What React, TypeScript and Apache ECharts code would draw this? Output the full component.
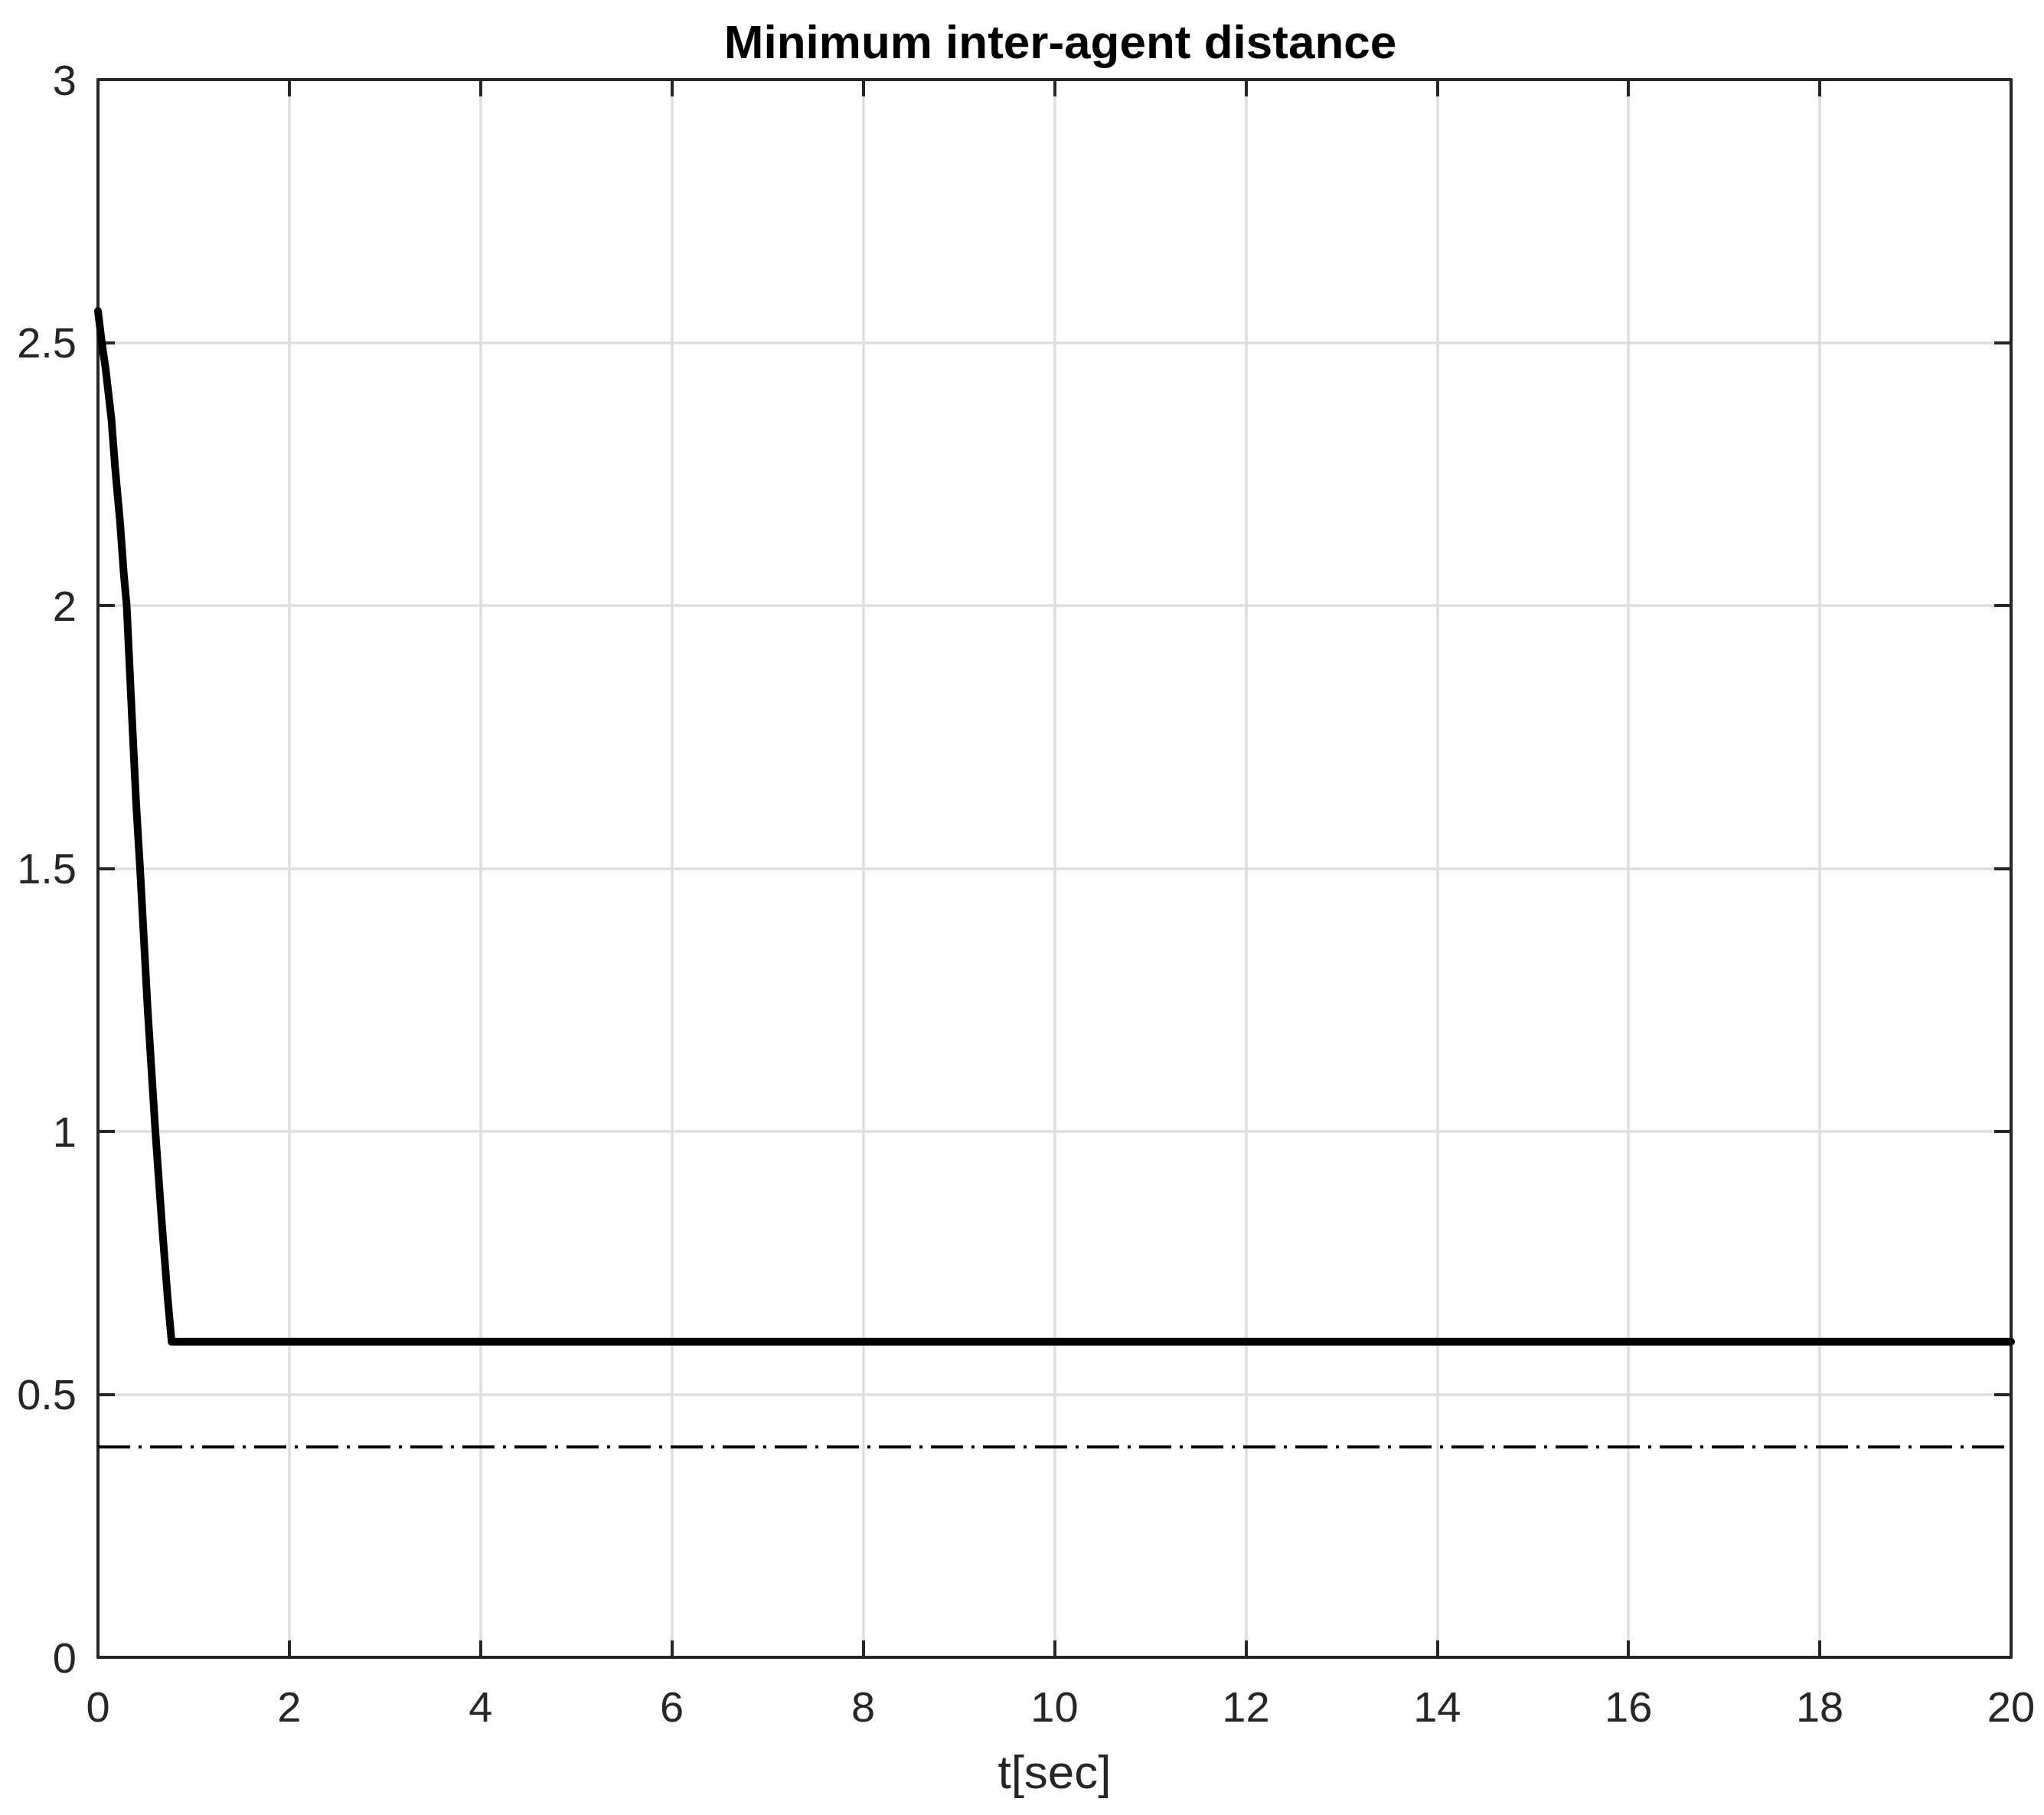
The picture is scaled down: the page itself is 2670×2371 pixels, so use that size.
import React, { useEffect, useRef } from "react";
import * as echarts from "echarts";

// Data
const timeSec = [0, 0.04, 0.08, 0.14, 0.18, 0.23, 0.27, 0.3, 0.36, 0.4, 0.44, 0.52, 0.6, 0.67, 0.73, 0.77, 20];
const minDistance = [2.56, 2.5, 2.45, 2.355, 2.26, 2.16, 2.06, 2.0, 1.77, 1.62, 1.5, 1.23, 1.0, 0.82, 0.68, 0.6, 0.6];
const thresholdTime = [0, 20];
const thresholdValue = [0.4, 0.4];

const titleText = "Minimum inter-agent distance";
const xAxisName = "t[sec]";

const W = 2670;
const H = 2371;

export default function App() {
  const ref = useRef<HTMLDivElement>(null);

  useEffect(() => {
    document.body.style.margin = "0";
    if (!ref.current) return;
    const chart = echarts.init(ref.current, null, { renderer: "svg" });
    const font = "'Liberation Sans', Arial, Helvetica, sans-serif";
    const axisColor = "#262626";
    const gridColor = "#dedede";

    const mainData = timeSec.map((t, i) => [t, minDistance[i]]);
    const threshData = thresholdTime.map((t, i) => [t, thresholdValue[i]]);

    chart.setOption({
      animation: false,
      backgroundColor: "#ffffff",
      title: {
        text: titleText,
        left: 1380,
        top: 18,
        textAlign: "center",
        textStyle: {
          fontFamily: font,
          fontSize: 62,
          fontWeight: "bold",
          color: "#000000",
        },
      },
      grid: {
        left: 128,
        right: 43,
        top: 104,
        bottom: 206,
        containLabel: false,
      },
      xAxis: [
        {
          type: "value",
          min: 0,
          max: 20,
          interval: 2,
          position: "bottom",
          name: xAxisName,
          nameLocation: "middle",
          nameGap: 118,
          nameTextStyle: { fontFamily: font, fontSize: 62, color: axisColor },
          axisLine: { show: true, onZero: false, lineStyle: { color: axisColor, width: 4 } },
          axisTick: { show: true, inside: true, length: 22, lineStyle: { color: axisColor, width: 4 } },
          axisLabel: { show: true, margin: 36, fontFamily: font, fontSize: 56, color: axisColor },
          splitLine: { show: true, lineStyle: { color: gridColor, width: 3.5 } },
        },
        {
          type: "value",
          min: 0,
          max: 20,
          interval: 2,
          position: "top",
          axisLine: { show: true, onZero: false, lineStyle: { color: axisColor, width: 4 } },
          axisTick: { show: true, inside: true, length: 22, lineStyle: { color: axisColor, width: 4 } },
          axisLabel: { show: false },
          splitLine: { show: false },
        },
      ],
      yAxis: [
        {
          type: "value",
          min: 0,
          max: 3,
          interval: 0.5,
          position: "left",
          axisLine: { show: true, onZero: false, lineStyle: { color: axisColor, width: 4 } },
          axisTick: { show: true, inside: true, length: 22, lineStyle: { color: axisColor, width: 4 } },
          axisLabel: { show: true, margin: 28, fontFamily: font, fontSize: 56, color: axisColor },
          splitLine: { show: true, lineStyle: { color: gridColor, width: 3.5 } },
        },
        {
          type: "value",
          min: 0,
          max: 3,
          interval: 0.5,
          position: "right",
          axisLine: { show: true, onZero: false, lineStyle: { color: axisColor, width: 4 } },
          axisTick: { show: true, inside: true, length: 22, lineStyle: { color: axisColor, width: 4 } },
          axisLabel: { show: false },
          splitLine: { show: false },
        },
      ],
      series: [
        {
          name: "threshold",
          type: "line",
          xAxisIndex: 0,
          yAxisIndex: 0,
          data: threshData,
          symbol: "none",
          lineStyle: { color: "#000000", width: 4, type: [42, 11, 4, 11] },
          z: 3,
        },
        {
          name: "Minimum inter-agent distance",
          type: "line",
          xAxisIndex: 0,
          yAxisIndex: 0,
          data: mainData,
          symbol: "none",
          lineStyle: { color: "#000000", width: 10, join: "round", cap: "round" },
          z: 4,
        },
      ],
    });

    return () => {
      chart.dispose();
    };
  }, []);

  return (
    <div
      ref={ref}
      style={{ position: "absolute", left: 0, top: 0, width: W, height: H, background: "#fff" }}
    />
  );
}
